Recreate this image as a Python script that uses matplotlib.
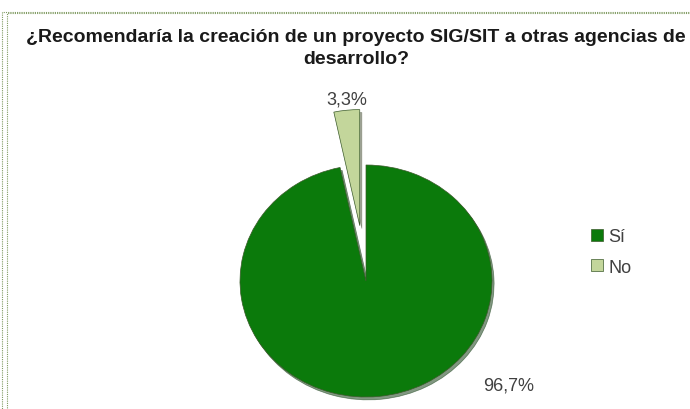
import matplotlib.pyplot as plt
from matplotlib.patches import Rectangle

labels = ["Sí", "No"]
values = [96.7, 3.3]
pct_text = ["96,7%", "3,3%"]
colors = ["#0B7A0B", "#C3D69B"]

W, H = 690, 410
fig = plt.figure(figsize=(W / 100, H / 100), dpi=100)

# dotted frames around the chart
for x0, y0 in [(1.5, 13), (6.5, 13.5)]:
    fig.patches.append(Rectangle((x0 / W, -0.05), 1.1, 1 - y0 / H + 0.05,
                                 transform=fig.transFigure, fill=False,
                                 edgecolor="#7F9A60", linestyle=(0, (1, 1)),
                                 linewidth=0.8))

fig.text(356 / W, 1 - 37 / H, "¿Recomendaría la creación de un proyecto SIG/SIT a otras agencias de",
         ha="center", va="center", fontsize=14, fontweight="bold",
         family="Liberation Sans", color="#1a1a1a")
fig.text(356 / W, 1 - 59 / H, "desarrollo?", ha="center", va="center", fontsize=14,
         fontweight="bold", family="Liberation Sans", color="#1a1a1a")

# pie axes: centre (366, 282) px, radii 126 x 116 px
cx, cy, rx, ry = 366, 282, 126, 116
ax = fig.add_axes([(cx - rx) / W, (H - cy - ry) / H, 2 * rx / W, 2 * ry / H])
wedges, _ = ax.pie(values, colors=colors, startangle=90, counterclock=False,
                   explode=[0, 0.48],
                   wedgeprops=dict(edgecolor="#3a5a2a", linewidth=0.5),
                   shadow=dict(ox=0.012, oy=-0.018, shade=0.6))
for p in ax.patches:
    p.set_clip_on(False)
ax.set_xlim(-1, 1)
ax.set_ylim(-1, 1)
ax.set_aspect("auto")
ax.axis("off")

ax.text(1.13, -0.9, pct_text[0], ha="center", va="center", fontsize=13,
        family="Liberation Sans", color="#404040", clip_on=False)
ax.text(-0.15, 1.57, pct_text[1], ha="center", va="center", fontsize=13,
        family="Liberation Sans", color="#404040", clip_on=False)

fig.legend(wedges, labels, loc="center left", bbox_to_anchor=(575 / W, 1 - 253 / H),
           frameon=False, prop={"family": "Liberation Sans", "size": 13},
           handlelength=0.65, handleheight=0.65, handletextpad=0.3, labelspacing=0.75,
           labelcolor="#404040")

fig.savefig("out.png", dpi=100)
